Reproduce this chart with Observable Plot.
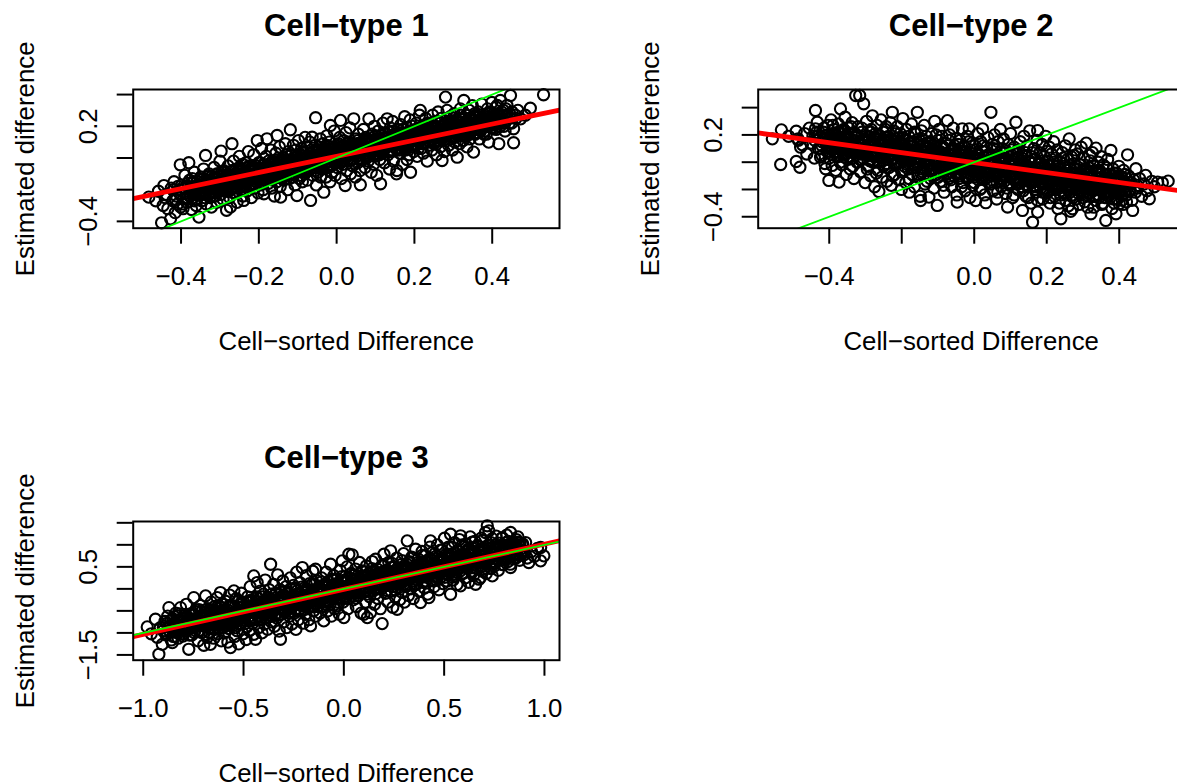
<!DOCTYPE html>
<html><head><meta charset="utf-8">
<script src="https://cdn.jsdelivr.net/npm/d3@7"></script>
<script src="https://cdn.jsdelivr.net/npm/@observablehq/plot@0.6"></script>
<style>
html,body{margin:0;padding:0;background:#fff;overflow:hidden;}
#wrap{position:relative;width:1177px;height:784px;overflow:hidden;background:#fff;}
.panel{position:absolute;}
</style></head><body><div id="wrap"></div>
<script>
// ---- data: [cell-sorted difference, estimated difference] ----
const ct1 = [
[-.483,-.247],[-.465,-.27],[-.458,-.21],[-.450,-.409],[-.446,-.30],[-.444,-.174],[-.441,-.25],
[-.437,-.23],[-.434,-.32],[-.427,-.384],[-.425,-.19],[-.421,-.27],[-.418,-.15],[-.415,-.345],[-.412,-.24],[-.409,-.29],[-.405,-.20],[-.402,-.043],[-.401,-.31],
[-.398,-.17],[-.395,-.32],[-.393,-.26],[-.390,-.11],[-.388,-.22],[-.385,-.28],[-.382,-.16],[-.380,-.03],[-.378,-.24],[-.375,-.19],[-.373,-.325],[-.371,-.13],[-.368,-.25],[-.366,-.09],[-.363,-.21],[-.361,-.30],
[-.358,-.15],[-.354,-.373],[-.352,-.23],[-.349,-.12],[-.347,-.27],[-.344,-.18],[-.342,-.07],[-.339,-.22],[-.337,.016],[-.335,-.29],[-.333,-.14],[-.331,-.20],[-.328,-.10],[-.326,-.25],[-.324,-.17],[-.322,-.31],
[-.319,-.13],[-.317,-.21],[-.315,-.06],[-.312,-.24],[-.310,-.16],[-.308,-.28],[-.305,-.10],[-.303,-.19],[-.300,-.02],[-.298,-.23],[-.297,.043],[-.295,-.14],[-.292,-.26],[-.290,-.08],[-.288,-.18],[-.285,-.12],[-.283,-.33],[-.281,-.21],
[-.279,-.05],[-.277,-.16],[-.275,-.25],[-.273,-.31],[-.271,-.11],[-.269,.09],[-.267,-.19],[-.265,-.02],[-.262,-.14],[-.260,-.22],[-.258,-.07],[-.256,-.28],[-.254,-.12],[-.252,-.17],[-.250,.01],[-.248,-.09],[-.246,-.20],[-.244,-.13],[-.242,-.04],[-.241,-.24],
[-.239,-.268],[-.237,-.10],[-.235,-.16],[-.233,-.03],[-.231,-.21],[-.229,-.12],[-.227,.04],[-.225,-.08],[-.223,-.18],[-.221,-.14],[-.219,-.25],[-.217,-.05],[-.215,-.11],[-.213,.02],[-.211,-.19],[-.209,-.07],[-.207,-.15],[-.205,-.09],[-.204,.11],[-.202,-.22],
[-.199,-.13],[-.197,-.03],[-.195,-.17],[-.193,.06],[-.191,-.10],[-.189,-.20],[-.187,-.226],[-.185,-.06],[-.183,-.14],[-.181,.01],[-.179,.121],[-.177,-.08],[-.175,-.16],[-.173,-.04],[-.171,-.11],[-.169,.05],[-.167,-.19],[-.165,-.02],[-.163,-.12],[-.161,-.07],[-.160,-.24],
[-.158,-.09],[-.156,.03],[-.154,-.15],[-.153,.142],[-.151,-.05],[-.149,-.12],[-.147,.07],[-.145,-.18],[-.144,-.247],[-.142,-.02],[-.140,-.10],[-.138,.00],[-.136,-.14],[-.134,-.06],[-.132,.09],[-.130,-.11],[-.128,-.03],[-.126,-.20],[-.124,.04],[-.122,-.08],[-.121,-.13],
[-.119,.178],[-.117,-.06],[-.115,.02],[-.113,-.12],[-.111,.08],[-.109,-.02],[-.107,-.17],[-.105,.05],[-.103,-.09],[-.102,-.237],[-.100,-.04],[-.098,.11],[-.096,-.13],[-.094,.00],[-.092,-.07],[-.090,.06],[-.088,-.15],[-.086,-.01],[-.084,.03],[-.082,-.10],[-.081,.13],
[-.079,-.05],[-.077,.07],[-.075,-.14],[-.073,.01],[-.071,-.08],[-.069,.10],[-.067,-.268],[-.065,-.03],[-.063,.131],[-.061,-.11],[-.059,.04],[-.057,-.06],[-.055,.08],[-.054,.254],[-.052,-.17],[-.050,.00],[-.048,-.09],[-.046,.05],[-.044,-.02],[-.042,.12],[-.041,-.12],
[-.039,.02],[-.037,-.07],[-.035,.09],[-.033,-.216],[-.031,-.03],[-.029,.06],[-.027,-.12],[-.025,.14],[-.023,.00],[-.021,-.05],[-.019,.10],[-.017,-.15],[-.016,.205],[-.014,.03],[-.012,-.09],[-.010,.07],[-.008,-.02],[-.006,.17],[-.004,-.11],[-.002,.04],
[.002,-.06],[.004,.08],[.006,-.01],[.008,.13],[.010,.237],[.012,-.13],[.014,.05],[.016,-.04],[.018,.11],[.020,.00],[.022,-.174],[.024,.16],[.026,-.08],[.028,.06],[.030,.02],[.032,-.02],[.034,.19],[.036,-.10],[.038,.09],[.039,.03],
[.041,-.05],[.044,.247],[.046,.07],[.048,-.12],[.050,.12],[.052,.01],[.054,-.03],[.056,.15],[.058,.05],[.060,-.08],[.061,-.169],[.063,.10],[.065,.03],[.067,-.01],[.069,.18],[.071,.08],[.073,-.06],[.075,.13],[.077,.00],[.079,.06],
[.081,-.02],[.083,.247],[.085,.10],[.087,.04],[.089,-.09],[.091,.15],[.093,.07],[.095,-.04],[.097,.20],[.099,.01],[.101,.12],[.103,-.11],[.105,.05],[.107,.17],[.109,.09],[.111,-.01],[.113,-.163],[.115,.14],[.117,.03],[.119,.22],
[.121,.06],[.123,-.03],[.125,.16],[.127,.10],[.130,.247],[.132,.02],[.134,.13],[.136,-.07],[.138,.19],[.140,.08],[.142,.04],[.144,.23],[.146,-.02],[.148,.11],[.150,.15],[.152,.06],[.154,-.10],[.155,-.079],[.157,.18],[.159,.09],
[.161,.13],[.163,.03],[.165,.21],[.167,.08],[.169,-.04],[.171,.16],[.173,.11],[.175,.26],[.177,.05],[.179,.14],[.181,-.01],[.183,.19],[.185,.09],[.187,.02],[.189,.24],[.190,-.09],[.192,.12],[.194,.07],[.196,.17],[.198,.04],
[.201,.15],[.203,.08],[.205,.22],[.207,.01],[.209,.18],[.211,.11],[.213,.27],[.215,.30],[.217,.06],[.219,.14],[.221,.20],[.223,.03],[.225,.17],[.227,.10],[.229,.25],[.231,.13],[.233,-.02],[.235,.19],[.237,.08],[.239,.16],
[.241,.21],[.243,.12],[.245,.05],[.247,.27],[.249,.17],[.251,.09],[.253,.23],[.255,.14],[.257,.02],[.259,.19],[.261,.29],[.263,.11],[.265,.16],[.267,.07],[.269,.25],[.271,-.016],[.273,.13],[.275,.20],[.277,.04],[.279,.18],
[.280,.384],[.282,.15],[.284,.30],[.286,.22],[.288,.08],[.290,.18],[.292,.26],[.294,.12],[.296,.21],[.298,.05],[.300,.16],[.302,.28],[.304,.10],[.306,.19],[.308,.24],[.310,.005],[.312,.14],[.314,.22],[.316,.09],[.318,.31],
[.321,.17],[.323,.25],[.325,.11],[.327,.363],[.329,.20],[.331,.14],[.333,.27],[.335,.07],[.337,.22],[.339,.16],[.341,.30],[.343,.12],[.345,.24],[.347,.19],[.349,.33],[.352,.037],[.354,.21],[.356,.15],[.358,.26],
[.361,.18],[.364,.29],[.367,.12],[.370,.24],[.373,.34],[.376,.20],[.379,.15],[.382,.27],[.385,.22],[.388,.31],[.391,.10],[.394,.25],[.397,.19],[.399,.35],
[.403,.28],[.407,.21],[.410,.32],[.413,.331],[.417,.09],[.421,.363],[.425,.24],[.429,.30],[.433,.17],[.437,.27],
[.438,.331],[.444,.22],[.447,.394],[.451,.29],[.455,.184],[.455,.096],[.461,.25],[.466,.30],[.473,.247],
[.485,.27],[.498,.314],[.532,.399],
[-.355,-.17],[-.348,-.21],[-.341,-.15],[-.334,-.19],[-.327,-.22],[-.320,-.16],[-.313,-.13],[-.306,-.20],[-.299,-.15],[-.292,-.11],[-.286,-.17],[-.279,-.14],[-.272,-.20],[-.266,-.08],[-.259,-.15],[-.253,-.11],[-.246,-.16],[-.240,-.07],[-.233,-.13],[-.227,-.10],
[-.220,-.17],[-.214,-.06],[-.208,-.12],[-.201,-.09],[-.195,-.14],[-.189,-.05],[-.183,-.11],[-.176,-.07],[-.170,-.13],[-.164,-.04],[-.158,-.09],[-.152,-.12],[-.146,-.05],[-.140,-.08],[-.134,-.02],[-.128,-.10],[-.122,-.05],[-.116,-.01],[-.110,-.08],[-.104,-.04],
[-.098,-.06],[-.092,.02],[-.086,-.05],[-.080,-.09],[-.074,-.02],[-.068,.03],[-.062,-.04],[-.056,-.01],[-.050,.04],[-.044,-.06],[-.038,.00],[-.032,.05],[-.026,-.03],[-.020,.02],[-.014,-.05],[-.008,.06],[-.002,.00],[.004,.03],[.010,-.03],[.016,.07],
[.022,.02],[.028,-.01],[.034,.05],[.040,.09],[.046,.02],[.052,.06],[.058,-.01],[.064,.04],[.070,.08],[.076,.03],[.082,.11],[.088,.06],[.094,.02],[.100,.08],[.106,.12],[.112,.05],[.118,.09],[.124,.13],[.130,.07],[.136,.10],
[.142,.05],[.148,.13],[.154,.09],[.160,.16],[.166,.11],[.172,.07],[.178,.13],[.184,.10],[.190,.17],[.196,.12],[.202,.09],[.208,.14],[.214,.19],[.220,.12],[.226,.15],[.232,.21],[.238,.11],[.244,.17],[.250,.14],[.256,.20],
[.262,.16],[.268,.12],[.274,.18],[.280,.22],[.286,.15],[.292,.19],[.298,.13],[.304,.21],[.310,.17],[.316,.25],[.322,.19],[.328,.15],[.334,.23],[.340,.18],[.346,.21],[.352,.26],[.358,.20],[.364,.23],[.370,.17],[.376,.25],
[.382,.21],[.388,.28],[.394,.22],[.400,.26],[.408,.19],[.416,.25],[.424,.29],[.432,.22],
[-.420,-.20],[-.414,-.26],[-.408,-.18],[-.402,-.23],[-.396,-.29],[-.390,-.19],[-.384,-.25],[-.378,-.14],[-.372,-.21],[-.366,-.27],[-.360,-.18],[-.355,-.23],[-.350,-.13],[-.345,-.20],[-.340,-.25],[-.335,-.17],[-.330,-.11],[-.325,-.21],[-.320,-.19],[-.315,-.24],
[-.310,-.12],[-.305,-.17],[-.300,-.21],[-.295,-.09],[-.290,-.15],[-.285,-.20],[-.280,-.11],[-.275,-.18],[-.270,-.14],[-.265,-.22],[-.260,-.10],[-.255,-.16],[-.250,-.06],[-.245,-.13],[-.240,-.18],[-.235,-.09],[-.230,-.15],[-.225,-.05],[-.220,-.11],[-.215,-.16],
[-.210,-.08],[-.205,-.13],[-.200,-.03],[-.195,-.10],[-.190,-.15],[-.185,-.07],[-.180,-.12],[-.175,-.02],[-.170,-.09],[-.165,-.14],[-.160,-.05],[-.155,-.10],[-.150,-.01],[-.145,-.07],[-.140,-.13],[-.135,-.04],[-.130,-.08],[-.125,.01],[-.120,-.05],[-.115,-.10],
[-.110,-.03],[-.105,.02],[-.100,-.07],[-.095,-.02],[-.090,-.11],[-.085,.04],[-.080,-.03],[-.075,.00],[-.070,-.07],[-.065,.05],[-.060,-.01],[-.055,-.08],[-.050,.02],[-.045,.07],[-.040,-.04],[-.035,.03],[-.030,-.01],[-.025,.08],[-.020,-.06],[-.015,.01],
[-.010,.05],[-.005,-.03],[.000,.02],[.005,.09],[.010,.04],[.015,-.02],[.020,.06],[.025,.01],[.030,.10],[.035,.03],[.040,-.01],[.045,.07],[.050,.04],[.055,.11],[.060,.02],[.065,.08],[.070,.05],[.075,.12],[.080,.01],[.085,.07],
[.090,.10],[.095,.04],[.100,.14],[.105,.08],[.110,.02],[.115,.11],[.120,.06],[.125,.15],[.130,.09],[.135,.04],[.140,.12],[.145,.17],[.150,.08],[.155,.13],[.160,.05],[.165,.10],[.170,.18],[.175,.12],[.180,.07],[.185,.15],
[.190,.10],[.195,.20],[.200,.12],[.205,.16],[.210,.06],[.215,.14],[.220,.18],[.225,.09],[.230,.16],[.235,.22],[.240,.13],[.245,.19],[.250,.10],[.255,.17],[.260,.23],[.265,.14],[.270,.20],[.275,.11],[.280,.17],[.285,.25],
[.290,.14],[.295,.19],[.300,.23],[.305,.13],[.310,.20],[.315,.16],[.320,.27],[.325,.18],[.330,.22],[.335,.14],[.340,.25],[.345,.17],[.350,.22],[.355,.28],[.360,.16],[.365,.21],[.370,.27],[.375,.19],[.380,.24],[.385,.15],
[.390,.23],[.395,.29],[.400,.21],[.405,.25],[.410,.18],[.415,.28],[.420,.22],[.425,.27],[.430,.20],[.435,.31],[.440,.25],[.445,.28],[.450,.22],[.460,.27],
[-.380,-.18],[-.376,-.24],[-.372,-.20],[-.368,-.15],[-.364,-.22],[-.360,-.26],[-.356,-.17],[-.352,-.21],[-.348,-.14],[-.344,-.19],[-.340,-.23],[-.336,-.16],[-.332,-.12],[-.328,-.20],[-.324,-.17],[-.320,-.22],[-.316,-.13],[-.312,-.18],[-.308,-.10],[-.304,-.15],
[-.300,-.20],[-.296,-.12],[-.292,-.17],[-.288,-.09],[-.284,-.14],[-.280,-.19],[-.276,-.11],[-.272,-.16],[-.268,-.08],[-.264,-.13],[-.260,-.18],[-.256,-.10],[-.252,-.15],[-.248,-.07],[-.244,-.12],[-.240,-.17],[-.236,-.09],[-.232,-.14],[-.228,-.06],[-.224,-.11],
[-.220,-.16],[-.216,-.08],[-.212,-.13],[-.208,-.05],[-.204,-.10],[-.200,-.14],[-.196,-.07],[-.192,-.12],[-.188,-.04],[-.184,-.09],[-.180,-.13],[-.176,-.06],[-.172,-.10],[-.168,-.03],[-.164,-.08],[-.160,-.12],[-.156,-.05],[-.152,-.09],[-.148,-.02],[-.144,-.07],
[-.140,-.11],[-.136,-.04],[-.132,-.08],[-.128,-.01],[-.124,-.06],[-.120,-.10],[-.116,-.03],[-.112,-.07],[-.108,.00],[-.104,-.05],[-.100,-.08],[-.096,-.02],[-.092,-.06],[-.088,.01],[-.084,-.04],[-.080,-.07],[-.076,.00],[-.072,-.04],[-.068,.03],[-.064,-.02],
[-.060,-.06],[-.056,.02],[-.052,-.03],[-.048,.04],[-.044,-.01],[-.040,-.05],[-.036,.03],[-.032,-.01],[-.028,.05],[-.024,.00],[-.020,-.04],[-.016,.04],[-.012,.01],[-.008,.06],[-.004,.01],[.000,-.03],[.004,.05],[.008,.02],[.012,.07],[.016,.02],
[.020,-.02],[.024,.06],[.028,.03],[.032,.08],[.036,.03],[.040,-.01],[.044,.07],[.048,.04],[.052,.09],[.056,.05],[.060,.00],[.064,.08],[.068,.05],[.072,.10],[.076,.06],[.080,.02],[.084,.09],[.088,.06],[.092,.11],[.096,.07],
[.100,.03],[.104,.10],[.108,.07],[.112,.12],[.116,.08],[.120,.04],[.124,.11],[.128,.08],[.132,.13],[.136,.09],[.140,.05],[.144,.12],[.148,.09],[.152,.14],[.156,.10],[.160,.06],[.164,.13],[.168,.10],[.172,.15],[.176,.11],
[.180,.07],[.184,.14],[.188,.11],[.192,.16],[.196,.12],[.200,.08],[.204,.15],[.208,.12],[.212,.17],[.216,.13],[.220,.09],[.224,.16],[.228,.13],[.232,.18],[.236,.14],[.240,.10],[.244,.17],[.248,.14],[.252,.19],[.256,.15],
[.260,.11],[.264,.18],[.268,.15],[.272,.20],[.276,.16],[.280,.12],[.284,.19],[.288,.16],[.292,.21],[.296,.17],[.300,.13],[.304,.20],[.308,.17],[.312,.22],[.316,.18],[.320,.14],[.324,.21],[.328,.18],[.332,.23],[.336,.19],
[.340,.15],[.344,.22],[.348,.19],[.352,.24],[.356,.20],[.360,.16],[.364,.23],[.368,.20],[.372,.25],[.376,.21],[.380,.17],[.384,.24],[.388,.21],[.392,.26],[.396,.22],[.400,.19],[.404,.25],[.408,.22],[.412,.27],[.416,.23],[.420,.20]
];
const ct2 = [
[-.557,.171],[-.532,.237],[-.534,-.017],[-.512,.19],[-.491,.227],[-.491,.005],[-.481,-.037],[-.485,.16],[-.486,.171],[-.479,.11],
[-.474,.127],[-.468,.21],[-.462,.06],[-.455,.25],[-.450,.14],[-.445,.19],[-.441,.03],
[-.438,.379],[-.438,.245],[-.433,.293],[-.429,.196],[-.424,.098],[-.424,.037],[-.420,.15],[-.416,.22],[-.412,-.01],[-.410,-.048],[-.407,.12],[-.404,.27],[-.401,-.134],[-.402,.07],
[-.398,.18],[-.395,.31],[-.392,-.024],[-.390,.09],[-.387,.24],[-.385,.14],[-.382,-.06],[-.380,.20],[-.377,.04],[-.375,.28],[-.373,-.146],[-.371,.11],[-.369,.391],[-.367,.17],[-.365,-.02],[-.363,.23],[-.361,.06],
[-.358,.13],[-.356,.33],[-.353,-.09],[-.351,.19],[-.349,.02],[-.346,.25],[-.344,.10],[-.342,-.05],[-.339,.16],[-.337,.29],[-.335,.07],[-.332,-.12],[-.330,.21],[-.327,.489],[-.325,.12],[-.323,.00],[-.321,.26],
[-.318,.15],[-.316,.489],[-.314,-.07],[-.312,.08],[-.310,.22],[-.307,.03],[-.305,.428],[-.303,.17],[-.301,-.15],[-.299,.11],[-.297,.30],[-.295,.05],[-.292,-.03],[-.290,.19],[-.288,.13],[-.286,-.10],[-.284,.24],[-.282,.07],[-.281,.34],
[-.279,.00],[-.277,.14],[-.275,-.18],[-.272,.21],[-.270,.06],[-.268,.27],[-.266,-.06],[-.264,.10],[-.263,-.215],[-.261,.17],[-.259,.03],[-.257,.31],[-.255,-.11],[-.253,.12],[-.251,.22],[-.249,.04],[-.247,-.02],[-.245,.16],[-.243,.26],[-.241,-.14],
[-.239,.09],[-.237,.19],[-.235,-.04],[-.233,.13],[-.231,.29],[-.229,-.17],[-.226,.366],[-.224,.02],[-.222,.23],[-.220,-.09],[-.218,.11],[-.216,.17],[-.214,-.01],[-.212,.26],[-.210,.06],[-.208,-.13],[-.206,.14],[-.204,.21],[-.202,.00],[-.201,-.20],
[-.199,.10],[-.197,.32],[-.195,-.06],[-.193,.16],[-.191,.04],[-.189,-.15],[-.187,.24],[-.185,.08],[-.183,-.02],[-.181,.19],[-.179,-.22],[-.177,.12],[-.175,.01],[-.173,.28],[-.171,-.09],[-.169,.15],[-.167,.06],[-.165,-.18],[-.163,.21],[-.161,-.04],
[-.159,.09],[-.157,.366],[-.155,-.11],[-.153,.17],[-.151,.02],[-.149,-.25],[-.148,-.281],[-.146,.23],[-.144,.05],[-.142,-.07],[-.140,.13],[-.138,.27],[-.136,-.16],[-.134,.00],[-.132,.19],[-.130,-.03],[-.128,.10],[-.125,-.256],[-.123,.15],[-.121,-.12],
[-.119,.07],[-.117,.21],[-.115,-.05],[-.113,.12],[-.111,-.19],[-.109,.30],[-.107,.03],[-.105,-.09],[-.102,-.317],[-.101,.16],[-.099,-.01],[-.097,.24],[-.095,.08],[-.093,-.14],[-.091,.05],[-.089,.19],[-.087,-.06],[-.085,.11],[-.083,-.22],[-.081,.01],
[-.079,.14],[-.077,-.03],[-.074,.305],[-.072,.06],[-.070,-.12],[-.068,.20],[-.066,-.07],[-.064,.09],[-.062,-.18],[-.060,.02],[-.058,.25],[-.056,-.10],[-.054,.12],[-.052,-.02],[-.050,.17],[-.048,-.24],[-.047,-.293],[-.045,.04],[-.043,-.05],[-.041,.10],
[-.039,.16],[-.037,-.08],[-.035,.05],[-.033,.245],[-.031,-.15],[-.029,.01],[-.027,.11],[-.025,-.21],[-.023,.07],[-.021,-.04],[-.019,.19],[-.017,-.11],[-.015,.03],[-.014,.245],[-.012,-.26],[-.010,.09],[-.008,-.02],[-.006,.14],[-.004,-.17],[-.002,.00],
[.002,.12],[.004,-.281],[.006,-.06],[.008,.05],[.010,.21],[.012,-.13],[.014,.02],[.016,-.20],[.018,.15],[.020,-.03],[.022,.08],[.023,.245],[.025,-.10],[.027,.04],[.029,-.24],[.032,-.297],[.034,.11],[.036,-.07],[.038,.18],[.039,-.01],
[.041,-.15],[.043,.06],[.046,.366],[.048,-.05],[.050,.13],[.052,-.21],[.054,.01],[.056,.20],[.058,-.09],[.060,.09],[.062,-.27],[.064,-.02],[.066,.15],[.068,-.12],[.070,.04],[.072,.24],[.074,-.18],[.076,-.04],[.078,.10],[.079,-.07],
[.081,.17],[.083,-.14],[.085,.02],[.087,-.23],[.089,.08],[.091,-.06],[.092,-.329],[.094,.13],[.096,-.01],[.098,-.17],[.100,.21],[.102,-.09],[.104,.05],[.106,-.26],[.108,.00],[.110,.11],[.112,-.12],[.115,.293],[.117,-.04],[.119,.06],
[.121,-.20],[.123,.09],[.125,-.08],[.127,.15],[.129,-.15],[.131,.03],[.133,-.354],[.135,-.02],[.137,.19],[.139,-.11],[.141,.07],[.143,-.25],[.145,-.05],[.147,.12],[.149,-.17],[.151,.01],[.153,.23],[.155,-.09],[.157,-.30],[.159,.04],
[.161,-.44],[.163,-.06],[.165,.10],[.167,-.14],[.169,.02],[.171,-.22],[.173,.16],[.175,.232],[.175,-.366],[.177,-.04],[.179,-.11],[.181,.07],[.183,-.19],[.185,-.01],[.187,.13],[.189,-.27],[.191,-.08],[.193,.04],[.195,-.15],[.197,.19],[.199,-.05],
[.201,-.21],[.203,.01],[.205,-.12],[.207,.11],[.209,-.30],[.211,-.07],[.213,.06],[.215,-.17],[.217,-.02],[.219,.15],[.221,-.25],[.223,-.10],[.225,.03],[.227,-.14],[.229,.09],[.231,-.34],[.233,-.05],[.235,-.19],[.237,.00],[.239,-.415],
[.241,-.09],[.243,.07],[.245,-.22],[.247,-.03],[.249,-.15],[.251,.12],[.253,-.28],[.255,-.06],[.257,.02],[.259,-.18],[.262,.171],[.264,-.11],[.266,-.36],[.268,.04],[.270,-.24],[.271,-.341],[.273,-.08],[.275,-.01],[.277,-.16],[.279,.09],
[.281,-.20],[.283,-.05],[.285,.06],[.287,-.13],[.289,-.31],[.291,-.02],[.293,-.17],[.295,.11],[.297,-.09],[.299,-.26],[.301,-.11],[.303,.03],[.305,-.22],[.307,-.06],[.309,.14],[.311,-.15],[.313,-.33],[.315,-.04],[.317,-.19],[.319,.05],
[.322,-.378],[.324,-.10],[.326,.07],[.328,-.21],[.330,-.03],[.332,-.16],[.334,-.28],[.336,.103],[.338,-.08],[.340,-.12],[.342,.00],[.344,-.24],[.346,-.06],[.348,-.18],[.350,.04],[.352,-.31],[.354,-.14],[.356,-.02],[.358,-.22],
[.361,-.09],[.363,-.427],[.365,-.17],[.368,.02],[.371,-.25],[.374,-.12],[.377,.086],[.380,-.20],[.383,-.05],[.386,-.30],[.389,-.15],[.391,-.378],[.393,-.08],[.396,-.22],[.399,-.03],[.400,-.305],
[.404,-.13],[.408,-.24],[.412,-.06],[.416,-.18],[.420,-.29],[.423,.054],[.426,-.10],[.430,-.21],[.434,-.15],[.437,-.354],
[.446,-.048],[.450,-.19],[.456,-.12],[.462,-.25],[.468,-.16],[.473,-.097],[.477,-.21],
[.483,-.268],[.490,-.14],[.497,-.18],[.506,-.146],[.519,-.151],[.535,-.139],
[-.420,.12],[-.413,.18],[-.406,.08],[-.399,.15],[-.392,.21],[-.385,.10],[-.378,.16],[-.371,.05],[-.364,.13],[-.357,.19],[-.350,.09],[-.343,.14],[-.336,.03],[-.329,.18],[-.322,.11],[-.315,.06],[-.308,.15],[-.301,.20],[-.294,.09],[-.287,.02],
[-.280,.13],[-.273,.18],[-.266,.07],[-.259,.12],[-.252,.01],[-.245,.09],[-.238,.15],[-.231,.05],[-.224,.11],[-.217,-.02],[-.210,.08],[-.203,.14],[-.196,.03],[-.189,.09],[-.182,-.05],[-.175,.06],[-.168,.12],[-.161,.00],[-.154,.07],[-.147,-.08],
[-.140,.04],[-.133,.10],[-.126,-.02],[-.119,.05],[-.112,-.10],[-.105,.02],[-.098,.08],[-.091,-.04],[-.084,.04],[-.077,-.09],[-.070,.01],[-.063,.06],[-.056,-.05],[-.049,.02],[-.042,-.12],[-.035,-.01],[-.028,.05],[-.021,-.07],[-.014,.00],[-.007,-.10],
[.000,-.03],[.007,.03],[.014,-.08],[.021,-.02],[.028,-.13],[.035,-.05],[.042,.01],[.049,-.10],[.056,-.04],[.063,-.15],[.070,-.07],[.077,.00],[.084,-.11],[.091,-.05],[.098,-.16],[.105,-.08],[.112,-.02],[.119,-.13],[.126,-.06],[.133,-.18],
[.140,-.10],[.147,-.03],[.154,-.14],[.161,-.08],[.168,-.20],[.175,-.12],[.182,-.05],[.189,-.16],[.196,-.09],[.203,-.22],[.210,-.13],[.217,-.06],[.224,-.18],[.231,-.11],[.238,-.24],[.245,-.14],[.252,-.08],[.259,-.20],[.266,-.12],[.273,-.26],
[.280,-.16],[.287,-.09],[.294,-.22],[.301,-.14],[.308,-.05],[.315,-.18],[.322,-.12],[.329,-.25],[.336,-.15],[.343,-.07],[.350,-.20],[.357,-.13],[.364,-.26],[.371,-.16],[.378,-.10],[.385,-.22],[.392,-.14],[.399,-.19],[.406,-.11],[.413,-.23],[.420,-.16],
[-.440,.16],[-.435,.22],[-.430,.10],[-.425,.18],[-.420,.05],[-.415,.25],[-.410,.14],[-.405,.20],[-.400,.03],[-.395,.12],[-.390,.27],[-.385,.17],[-.380,.08],[-.375,.22],[-.370,.00],[-.365,.15],[-.360,.24],[-.355,.06],[-.350,.18],[-.345,.12],
[-.340,.26],[-.335,-.03],[-.330,.09],[-.325,.20],[-.320,.14],[-.315,.02],[-.310,.25],[-.305,.08],[-.300,.16],[-.295,-.05],[-.290,.11],[-.285,.22],[-.280,.05],[-.275,.15],[-.270,-.08],[-.265,.20],[-.260,.08],[-.255,.13],[-.250,-.03],[-.245,.24],
[-.240,.02],[-.235,.10],[-.230,.17],[-.225,-.10],[-.220,.06],[-.215,.21],[-.210,.00],[-.205,.12],[-.200,-.07],[-.195,.18],[-.190,.05],[-.185,.10],[-.180,-.12],[-.175,.14],[-.170,-.02],[-.165,.22],[-.160,.04],[-.155,-.09],[-.150,.11],[-.145,.17],
[-.140,-.04],[-.135,.07],[-.130,-.14],[-.125,.02],[-.120,.14],[-.115,-.06],[-.110,.09],[-.105,.20],[-.100,-.11],[-.095,.01],[-.090,.12],[-.085,-.17],[-.080,.06],[-.075,-.05],[-.070,.16],[-.065,-.13],[-.060,.03],[-.055,.09],[-.050,-.08],[-.045,.13],
[-.040,-.02],[-.035,-.18],[-.030,.07],[-.025,.02],[-.020,-.12],[-.015,.15],[-.010,-.06],[-.005,.04],[.000,-.15],[.005,.09],[.010,-.09],[.015,.00],[.020,-.19],[.025,.12],[.030,-.04],[.035,-.11],[.040,.05],[.045,-.16],[.050,-.01],[.055,.10],
[.060,-.08],[.065,-.22],[.070,.02],[.075,-.13],[.080,.07],[.085,-.04],[.090,-.19],[.095,.00],[.100,-.10],[.105,.09],[.110,-.24],[.115,-.06],[.120,.03],[.125,-.15],[.130,-.02],[.135,-.21],[.140,.05],[.145,-.09],[.150,-.26],[.155,-.04],
[.160,.07],[.165,-.17],[.170,-.08],[.175,-.28],[.180,.01],[.185,-.12],[.190,-.22],[.195,-.03],[.200,.08],[.205,-.16],[.210,-.26],[.215,-.10],[.220,.00],[.225,-.20],[.230,-.07],[.235,-.30],[.240,-.13],[.245,.03],[.250,-.23],[.255,-.11],
[.260,-.32],[.265,-.05],[.270,-.18],[.275,.05],[.280,-.27],[.285,-.12],[.290,-.21],[.295,-.02],[.300,-.16],[.305,-.29],[.310,-.09],[.315,-.23],[.320,.01],[.325,-.14],[.330,-.33],[.335,-.19],[.340,-.06],[.345,-.26],[.350,-.11],[.355,-.30],
[.360,-.17],[.365,-.04],[.370,-.22],[.375,-.13],[.380,-.34],[.385,-.08],[.390,-.20],[.395,-.27],[.400,-.12],[.405,-.18],[.410,-.31],[.415,-.09],[.420,-.24],[.425,-.15],[.430,-.20],[.435,-.28],[.440,-.13],[.445,-.22],[.450,-.17],
[-.400,.16],[-.396,.10],[-.392,.20],[-.388,.13],[-.384,.07],[-.380,.18],[-.376,.12],[-.372,.22],[-.368,.09],[-.364,.15],[-.360,.04],[-.356,.17],[-.352,.11],[-.348,.21],[-.344,.08],[-.340,.14],[-.336,.03],[-.332,.16],[-.328,.10],[-.324,.20],
[-.320,.07],[-.316,.13],[-.312,.02],[-.308,.15],[-.304,.09],[-.300,.19],[-.296,.06],[-.292,.12],[-.288,.01],[-.284,.14],[-.280,.08],[-.276,.18],[-.272,.05],[-.268,.11],[-.264,.00],[-.260,.13],[-.256,.07],[-.252,.17],[-.248,.04],[-.244,.10],
[-.240,-.01],[-.236,.12],[-.232,.06],[-.228,.16],[-.224,.03],[-.220,.09],[-.216,-.02],[-.212,.11],[-.208,.05],[-.204,.15],[-.200,.02],[-.196,.08],[-.192,-.03],[-.188,.10],[-.184,.04],[-.180,.14],[-.176,.01],[-.172,.07],[-.168,-.04],[-.164,.09],
[-.160,.03],[-.156,.13],[-.152,.00],[-.148,.06],[-.144,-.05],[-.140,.08],[-.136,.02],[-.132,.12],[-.128,-.01],[-.124,.05],[-.120,-.06],[-.116,.07],[-.112,.01],[-.108,.11],[-.104,-.02],[-.100,.04],[-.096,-.07],[-.092,.06],[-.088,.00],[-.084,.10],
[-.080,-.03],[-.076,.03],[-.072,-.08],[-.068,.05],[-.064,-.01],[-.060,.09],[-.056,-.04],[-.052,.02],[-.048,-.09],[-.044,.04],[-.040,-.02],[-.036,.08],[-.032,-.05],[-.028,.01],[-.024,-.10],[-.020,.03],[-.016,-.03],[-.012,.07],[-.008,-.06],[-.004,.00],
[.000,-.11],[.004,.02],[.008,-.04],[.012,.06],[.016,-.07],[.020,-.01],[.024,-.12],[.028,.01],[.032,-.05],[.036,.05],[.040,-.08],[.044,-.02],[.048,-.13],[.052,.00],[.056,-.06],[.060,.04],[.064,-.09],[.068,-.03],[.072,-.14],[.076,-.01],
[.080,-.07],[.084,.03],[.088,-.10],[.092,-.04],[.096,-.15],[.100,-.02],[.104,-.08],[.108,.02],[.112,-.11],[.116,-.05],[.120,-.16],[.124,-.03],[.128,-.09],[.132,.01],[.136,-.12],[.140,-.06],[.144,-.17],[.148,-.04],[.152,-.10],[.156,.00],
[.160,-.13],[.164,-.07],[.168,-.18],[.172,-.05],[.176,-.11],[.180,-.01],[.184,-.14],[.188,-.08],[.192,-.19],[.196,-.06],[.200,-.12],[.204,-.02],[.208,-.15],[.212,-.09],[.216,-.20],[.220,-.07],[.224,-.13],[.228,-.03],[.232,-.16],[.236,-.10],
[.240,-.21],[.244,-.08],[.248,-.14],[.252,-.04],[.256,-.17],[.260,-.11],[.264,-.22],[.268,-.09],[.272,-.15],[.276,-.05],[.280,-.18],[.284,-.12],[.288,-.23],[.292,-.10],[.296,-.16],[.300,-.06],[.304,-.19],[.308,-.13],[.312,-.24],[.316,-.11],
[.320,-.17],[.324,-.07],[.328,-.20],[.332,-.14],[.336,-.25],[.340,-.12],[.344,-.18],[.348,-.08],[.352,-.21],[.356,-.15],[.360,-.26],[.364,-.13],[.368,-.19],[.372,-.09],[.376,-.22],[.380,-.16],[.384,-.27],[.388,-.14],[.392,-.20],[.396,-.10],
[.400,-.23],[.404,-.17],[.408,-.28],[.412,-.15],[.416,-.21],[.420,-.12]
];
const ct3 = [
[-.980,-.864],[-.960,-1.02],[-.939,-.69],[-.930,-1.10],[-.922,-1.486],[-.915,-.88],[-.905,-1.26],
[-.900,-.95],[-.892,-.74],[-.885,-1.05],[-.878,-.62],[-.872,-.425],[-.866,-.86],[-.860,-1.16],[-.855,-1.22],[-.850,-.79],[-.845,-.98],
[-.838,-.55],[-.832,-.90],[-.826,-1.12],[-.820,-.70],[-.814,-.425],[-.808,-.84],[-.802,-1.02],[-.796,-.62],[-.790,-.95],[-.785,-.35],[-.779,-.78],[-.773,-1.373],[-.767,-.88],[-.762,-.57],
[-.758,-1.05],[-.753,-.72],[-.748,-.198],[-.742,-.94],[-.737,-.48],[-.731,-.83],[-.726,-1.18],[-.720,-.62],[-.715,-.38],[-.709,-.99],[-.704,-.74],[-.698,-1.28],[-.693,-.55],[-.689,-.159],[-.685,-.86],[-.681,-1.10],
[-.678,-.45],[-.674,-.70],[-.670,-.98],[-.665,-1.26],[-.661,-.30],[-.657,-.82],[-.652,-.58],[-.648,-1.12],[-.644,-.40],[-.640,-.92],[-.635,-.66],[-.631,-.20],[-.627,-1.02],[-.622,-.52],[-.618,-.78],[-.615,-.084],[-.611,-1.18],[-.606,-.35],[-.602,-.87],
[-.598,-.60],[-.594,-1.00],[-.590,-.28],[-.586,-.75],[-.582,-.47],[-.578,-1.21],[-.574,-.90],[-.570,-.14],[-.565,-1.334],[-.561,-.66],[-.557,-.38],[-.553,-.83],[-.548,-.045],[-.544,-1.08],[-.540,-.55],[-.536,-.22],[-.532,-.95],[-.528,-.70],[-.524,-1.25],
[-.519,-.42],[-.515,-.80],[-.511,-.10],[-.507,-.60],[-.503,-1.02],[-.499,-.30],[-.495,-.72],[-.491,-.50],[-.487,-1.15],[-.483,-.86],[-.479,-.18],[-.475,-.40],[-.471,-.95],[-.467,.05],[-.463,-.65],[-.459,-.28],[-.455,-.78],[-.449,.295],[-.449,-1.032],[-.446,-.52],[-.440,-1.145],
[-.436,-.20],[-.432,.143],[-.428,-.62],[-.424,-.88],[-.420,-.38],[-.416,-.05],[-.412,-.70],[-.408,-1.00],[-.404,-.46],[-.400,-.12],[-.396,-.80],[-.392,.20],[-.388,-.55],[-.384,-.30],[-.380,-.92],[-.376,-.64],[-.372,-.02],[-.368,-.42],[-.365,.559],[-.362,-.75],
[-.358,-.25],[-.354,-.52],[-.350,.10],[-.346,-.85],[-.342,-.38],[-.338,-.12],[-.334,-.66],[-.330,.32],[-.326,-.45],[-.322,-.96],[-.318,-.02],[-.316,-1.145],[-.312,-.58],[-.308,-.30],[-.304,.18],[-.300,-.75],[-.296,-.20],[-.292,-.48],[-.288,.05],[-.284,-.88],
[-.279,-.35],[-.275,-.10],[-.271,-.62],[-.267,.25],[-.263,-.44],[-.259,-.80],[-.255,-.18],[-.251,.08],[-.247,-.55],[-.243,-.28],[-.239,-.92],[-.235,.38],[-.231,-.04],[-.227,-.70],[-.223,-.36],[-.219,.14],[-.215,-.50],[-.211,-.22],[-.207,.484],[-.203,-.78],
[-.199,-.30],[-.195,.02],[-.191,-.58],[-.187,.30],[-.183,-.15],[-.179,-.42],[-.175,-.70],[-.171,.12],[-.166,-.841],[-.163,-.25],[-.159,-.05],[-.155,.40],[-.151,-.50],[-.147,-.32],[-.141,.445],[-.139,-.62],[-.135,.18],[-.131,-.10],[-.127,-.38],[-.123,.06],
[-.119,-.55],[-.115,-.20],[-.111,.25],[-.107,-.02],[-.103,-.40],[-.100,-.727],[-.096,.10],[-.092,-.28],[-.088,.38],[-.084,-.12],[-.080,-.50],[-.076,.16],[-.072,-.06],[-.068,-.35],[-.066,.559],[-.062,-.62],[-.058,.02],[-.054,-.22],[-.050,.30],[-.046,-.45],[-.042,.08],
[-.038,-.15],[-.034,.22],[-.030,-.38],[-.026,.05],[-.022,-.58],[-.018,.42],[-.014,-.08],[-.010,.15],[-.008,.636],[-.004,-.30],[.000,-.652],[.004,.00],[.008,.28],[.012,-.20],[.016,.50],[.020,-.45],[.025,.786],[.028,.10],[.032,-.10],[.036,.35],
[.042,.773],[.046,-.25],[.050,.18],[.054,-.02],[.058,.45],[.062,-.40],[.066,.08],[.070,.30],[.074,-.15],[.078,.60],[.082,.00],[.086,-.55],[.090,.22],[.094,.40],[.098,-.08],[.100,-.577],[.104,.14],[.108,-.30],[.112,.52],[.117,-.652],
[.121,.05],[.125,.35],[.129,-.18],[.133,-.539],[.137,.20],[.141,.62],[.145,-.05],[.149,.28],[.153,-.35],[.158,.673],[.162,.10],[.166,.45],[.170,-.22],[.174,.02],[.178,.36],[.182,-.45],[.186,.15],[.191,-.789],[.195,.55],[.200,.786],
[.204,.25],[.208,-.10],[.212,.42],[.216,.08],[.220,-.30],[.224,.60],[.228,.18],[.233,.864],[.236,-.05],[.240,.35],[.244,-.42],[.248,.12],[.252,.50],[.256,-.18],[.260,.28],[.264,.70],[.266,-.464],[.270,.02],[.274,.40],[.278,-.25],
[.282,.15],[.286,.55],[.290,-.08],[.294,.32],[.298,.80],[.302,-.30],[.306,.45],[.310,.05],[.316,1.09],[.318,.22],[.322,-.15],[.326,.62],[.330,.38],[.334,.00],[.338,.72],[.342,.18],[.346,-.22],[.350,.50],[.354,.28],[.358,.90],
[.362,.10],[.366,.40],[.370,.68],[.374,-.05],[.378,.25],[.382,-.311],[.386,.55],[.390,.85],[.394,.15],[.398,.42],[.402,.02],[.406,.75],[.410,.30],[.414,.60],[.418,-.12],[.424,-.198],[.426,.48],[.430,.95],[.432,1.09],[.436,.20],
[.442,.65],[.446,.35],[.450,.05],[.454,.80],[.458,.50],[.462,.20],[.466,1.00],[.470,.62],[.474,-.02],[.478,.40],[.482,.88],[.486,.28],[.490,.70],[.494,.12],[.498,.55],[.502,1.15],[.506,.35],[.510,.78],[.514,.18],[.518,.48],
[.522,.95],[.526,.62],[.532,-.122],[.532,1.241],[.536,.40],[.540,.78],[.544,.20],[.548,.55],[.552,1.05],[.556,.30],[.560,.70],[.564,.10],[.568,.88],[.572,.45],[.576,1.12],[.582,.068],[.582,1.205],[.586,.60],[.590,.35],[.594,.95],
[.602,.72],[.606,.25],[.610,1.02],[.614,.50],[.618,.85],[.622,.15],[.626,.62],[.630,1.18],[.634,.40],[.638,.78],[.642,.92],[.646,.30],[.650,.55],[.654,1.08],[.657,.105],[.662,.70],[.666,.45],[.670,.98],[.674,.22],[.678,.82],
[.681,.257],[.685,1.15],[.689,.60],[.693,.40],[.697,.92],[.702,.75],[.706,1.28],[.710,.35],[.715,1.432],[.718,.65],[.723,1.318],[.726,.85],[.730,.48],[.734,1.05],[.738,.62],[.740,.295],[.745,.95],[.750,.52],[.755,.78],[.759,1.20],
[.764,.68],[.770,.42],[.776,.98],[.782,.80],[.788,1.15],[.794,.55],[.800,.90],[.806,.70],[.812,1.22],[.818,.62],[.824,.95],[.831,1.28],[.831,.484],[.836,.80],
[.846,1.05],[.852,.72],[.860,.90],[.868,1.18],[.876,.65],[.884,.85],[.892,1.02],[.900,.78],[.906,1.052],[.914,.70],[.922,.598],
[.935,.85],[.950,.74],[.965,.92],[.981,.939],[.981,.636],[.997,.75],
[-.850,-.80],[-.836,-.95],[-.822,-.72],[-.808,-.88],[-.794,-.66],[-.780,-.92],[-.766,-.75],[-.752,-.60],[-.738,-.85],[-.724,-.70],[-.710,-.52],[-.696,-.80],[-.682,-.64],[-.668,-.90],[-.654,-.55],[-.640,-.72],[-.626,-.45],[-.612,-.68],[-.598,-.82],[-.584,-.52],
[-.570,-.66],[-.556,-.40],[-.542,-.75],[-.528,-.58],[-.514,-.35],[-.500,-.62],[-.486,-.48],[-.472,-.72],[-.458,-.40],[-.444,-.55],[-.430,-.30],[-.416,-.62],[-.402,-.45],[-.388,-.25],[-.374,-.52],[-.360,-.38],[-.346,-.60],[-.332,-.28],[-.318,-.44],[-.304,-.15],
[-.290,-.40],[-.276,-.55],[-.262,-.22],[-.248,-.36],[-.234,-.12],[-.220,-.45],[-.206,-.28],[-.192,-.08],[-.178,-.34],[-.164,-.18],[-.150,-.40],[-.136,-.05],[-.122,-.25],[-.108,-.12],[-.094,-.35],[-.080,.05],[-.066,-.18],[-.052,-.08],[-.038,.12],[-.024,-.22],
[-.010,-.05],[.004,.15],[.018,-.12],[.032,.05],[.046,.22],[.060,-.06],[.074,.12],[.088,.28],[.102,.02],[.116,.18],[.130,-.05],[.144,.30],[.158,.10],[.172,.22],[.186,.00],[.200,.35],[.214,.15],[.228,.28],[.242,.05],[.256,.40],
[.270,.20],[.284,.32],[.298,.10],[.312,.45],[.326,.25],[.340,.38],[.354,.12],[.368,.52],[.382,.30],[.396,.45],[.410,.18],[.424,.58],[.438,.36],[.452,.48],[.466,.25],[.480,.65],[.494,.42],[.508,.58],[.522,.32],[.536,.70],
[.550,.48],[.564,.62],[.578,.40],[.592,.78],[.606,.55],[.620,.68],[.634,.48],[.648,.85],[.662,.60],[.676,.75],[.690,.52],[.704,.90],[.718,.68],[.732,.80],[.746,.58],[.760,.95],[.774,.72],[.788,.88],[.802,.65],[.816,1.00],
[.830,.78],[.844,.92],[.858,.70],[.872,.98],[.886,.82],
[-.900,-.88],[-.890,-1.00],[-.880,-.78],[-.870,-.95],[-.860,-.70],[-.850,-1.08],[-.840,-.86],[-.830,-.62],[-.820,-.98],[-.810,-.75],[-.800,-.90],[-.790,-.58],[-.780,-.82],[-.770,-1.05],[-.760,-.68],[-.750,-.88],[-.740,-.52],[-.730,-.76],[-.720,-.95],[-.710,-.64],
[-.700,-.84],[-.690,-.48],[-.680,-.72],[-.670,-1.00],[-.660,-.60],[-.650,-.80],[-.640,-.50],[-.630,-.70],[-.620,-.90],[-.610,-.42],[-.600,-.65],[-.590,-.85],[-.580,-.55],[-.570,-.74],[-.560,-.38],[-.550,-.60],[-.540,-.88],[-.530,-.48],[-.520,-.68],[-.510,-.30],
[-.500,-.55],[-.490,-.78],[-.480,-.42],[-.470,-.62],[-.460,-.25],[-.450,-.48],[-.440,-.70],[-.430,-.36],[-.420,-.55],[-.410,-.18],[-.400,-.42],[-.390,-.65],[-.380,-.30],[-.370,-.50],[-.360,-.12],[-.350,-.36],[-.340,-.58],[-.330,-.24],[-.320,-.45],[-.310,-.08],
[-.300,-.30],[-.290,-.52],[-.280,-.18],[-.270,-.38],[-.260,-.02],[-.250,-.25],[-.240,-.46],[-.230,-.12],[-.220,-.32],[-.210,.04],[-.200,-.20],[-.190,-.40],[-.180,-.06],[-.170,-.26],[-.160,.10],[-.150,-.14],[-.140,-.34],[-.130,.00],[-.120,-.20],[-.110,.16],
[-.100,-.08],[-.090,-.28],[-.080,.06],[-.070,-.14],[-.060,.22],[-.050,-.02],[-.040,-.22],[-.030,.12],[-.020,-.08],[-.010,.28],[.000,.04],[.010,-.16],[.020,.18],[.030,-.02],[.040,.34],[.050,.10],[.060,-.10],[.070,.24],[.080,.04],[.090,.40],
[.100,.16],[.110,-.04],[.120,.30],[.130,.10],[.140,.46],[.150,.22],[.160,.02],[.170,.36],[.180,.16],[.190,.52],[.200,.28],[.210,.08],[.220,.42],[.230,.22],[.240,.58],[.250,.34],[.260,.14],[.270,.48],[.280,.28],[.290,.64],
[.300,.40],[.310,.20],[.320,.54],[.330,.34],[.340,.70],[.350,.46],[.360,.26],[.370,.60],[.380,.40],[.390,.76],[.400,.52],[.410,.32],[.420,.66],[.430,.46],[.440,.82],[.450,.58],[.460,.38],[.470,.72],[.480,.52],[.490,.88],
[.500,.64],[.510,.44],[.520,.78],[.530,.58],[.540,.94],[.550,.70],[.560,.50],[.570,.84],[.580,.64],[.590,1.00],[.600,.76],[.610,.56],[.620,.90],[.630,.70],[.640,1.06],[.650,.82],[.660,.62],[.670,.96],[.680,.76],[.690,1.10],
[.700,.86],[.710,.66],[.720,1.00],[.730,.80],[.740,1.14],[.750,.90],[.760,.70],[.770,1.04],[.780,.84],[.790,1.16],[.800,.94],[.810,.74],[.820,1.08],[.830,.88],[.840,1.02],[.850,.80],[.860,1.12],[.870,.92],[.880,.76],[.890,1.00],[.900,.86],
[-.850,-.69],[-.842,-1.08],[-.834,-.80],[-.826,-.95],[-.818,-.57],[-.810,-.86],[-.802,-1.07],[-.794,-.69],[-.786,-.96],[-.778,-.72],[-.770,-.85],[-.762,-.57],[-.754,-.59],[-.746,-.99],[-.738,-.71],[-.730,-.85],[-.722,-.47],[-.714,-.76],[-.706,-.98],[-.698,-.60],
[-.690,-.86],[-.682,-.62],[-.674,-.75],[-.666,-.48],[-.658,-.50],[-.650,-.89],[-.642,-.61],[-.634,-.75],[-.626,-.38],[-.618,-.67],[-.610,-.88],[-.602,-.50],[-.594,-.76],[-.586,-.53],[-.578,-.66],[-.570,-.38],[-.562,-.40],[-.554,-.79],[-.546,-.52],[-.538,-.66],
[-.530,-.28],[-.522,-.57],[-.514,-.78],[-.506,-.41],[-.498,-.67],[-.490,-.43],[-.482,-.56],[-.474,-.28],[-.466,-.31],[-.458,-.70],[-.450,-.42],[-.442,-.56],[-.434,-.18],[-.426,-.48],[-.418,-.69],[-.410,-.31],[-.402,-.57],[-.394,-.33],[-.386,-.47],[-.378,-.19],
[-.370,-.21],[-.362,-.60],[-.354,-.32],[-.346,-.47],[-.338,-.09],[-.330,-.38],[-.322,-.59],[-.314,-.21],[-.306,-.48],[-.298,-.24],[-.290,-.37],[-.282,-.09],[-.274,-.11],[-.266,-.51],[-.258,-.23],[-.250,-.37],[-.242,.01],[-.234,-.28],[-.226,-.50],[-.218,-.12],
[-.210,-.38],[-.202,-.14],[-.194,-.27],[-.186,.00],[-.178,-.02],[-.170,-.41],[-.162,-.13],[-.154,-.27],[-.146,.10],[-.138,-.19],[-.130,-.40],[-.122,-.02],[-.114,-.28],[-.106,-.05],[-.098,-.18],[-.090,.10],[-.082,.08],[-.074,-.31],[-.066,-.04],[-.058,-.18],
[-.050,.20],[-.042,-.09],[-.034,-.30],[-.026,.07],[-.018,-.19],[-.010,.05],[-.002,-.08],[.006,.20],[.014,.17],[.022,-.22],[.030,.06],[.038,-.08],[.046,.30],[.054,.00],[.062,-.21],[.070,.17],[.078,-.09],[.086,.15],[.094,.01],[.102,.29],
[.110,.27],[.118,-.12],[.126,.16],[.134,.01],[.142,.39],[.150,.10],[.158,-.11],[.166,.27],[.174,.00],[.182,.24],[.190,.11],[.198,.39],[.206,.37],[.214,-.03],[.222,.25],[.230,.11],[.238,.49],[.246,.20],[.254,-.02],[.262,.36],
[.270,.10],[.278,.34],[.286,.21],[.294,.48],[.302,.46],[.310,.07],[.318,.35],[.326,.21],[.334,.58],[.342,.29],[.350,.08],[.358,.46],[.366,.20],[.374,.43],[.382,.30],[.390,.58],[.398,.56],[.406,.17],[.414,.44],[.422,.30],
[.430,.68],[.438,.39],[.446,.18],[.454,.55],[.462,.29],[.470,.53],[.478,.40],[.486,.68],[.494,.65],[.502,.26],[.510,.54],[.518,.40],[.526,.78],[.534,.48],[.542,.27],[.550,.65],[.558,.39],[.566,.63],[.574,.49],[.582,.77],
[.590,.75],[.598,.36],[.606,.64],[.614,.49],[.622,.87],[.630,.58],[.638,.37],[.646,.75],[.654,.48],[.662,.72],[.670,.59],[.678,.87],[.686,.85],[.694,.45],[.702,.73],[.710,.59],[.718,.97],[.726,.68],[.734,.46],[.742,.84],
[.750,.58],[.758,.82],[.766,.69],[.774,.96],[.782,.94],[.790,.55],[.798,.83],[.806,.69],[.814,1.06],[.822,.77],[.830,.56],[.838,.94],[.846,.68],[.854,.91],[.862,.78],[.870,1.06],[.878,1.04]
];
// titles and labels
const titles = ["Cell\u2212type 1", "Cell\u2212type 2", "Cell\u2212type 3"];
const xLabel = "Cell\u2212sorted Difference";
const yLabel = "Estimated difference";
// tick values and which ones carry a label
const xTicks = [[-0.4,-0.2,0,0.2,0.4],[-0.4,-0.2,0,0.2,0.4],[-1,-0.5,0,0.5,1]];
const xTickLabels = [[-0.4,-0.2,0,0.2,0.4],[-0.4,0,0.2,0.4],[-1,-0.5,0,0.5,1]];
const yTicks = [[-0.4,-0.2,0,0.2,0.4],[-0.4,-0.2,0,0.2,0.4],[-1.5,-1,-0.5,0,0.5,1,1.5]];
const yTickLabels = [[-0.4,0.2],[-0.4,0.2],[-1.5,0.5]];
// fitted line (intercept, slope) in red; identity line in green
const redFit = [[0.01,0.51],[-0.003,-0.365],[-0.01,1.025]];
const greenFit = [[0,1],[0,1],[0,1]];

// ---- layout (positions/sizes only) ----
const layout = [
  {left:0,   top:0,   width:590, height:392, ml:132.7, mr:31,   mt:89,  mb:164.3, xd:[-0.523,0.573], yd:[-0.443,0.432]},
  {left:590, top:0,   width:620, height:392, ml:167.7, mr:26.4, mt:89,  mb:164.3, xd:[-0.596,0.579], yd:[-0.484,0.533]},
  {left:0,   top:392, width:590, height:392, ml:132.7, mr:31,   mt:129, mb:124.3, xd:[-1.05,1.075],  yd:[-1.62,1.53]}
];
const data = [ct1, ct2, ct3];
const FONT = "'Liberation Sans', Arial, Helvetica, sans-serif";
const FS = 25.8;

const fmt = shown => d => shown.some(s => Math.abs(s - d) < 1e-9) ? d3.format(".1f")(d) : "";
const abline = ([a, b], [x0, x1]) => [{x: x0, y: a + b * x0}, {x: x1, y: a + b * x1}];

const wrap = document.getElementById("wrap");
layout.forEach((L, i) => {
  const chart = Plot.plot({
    width: L.width, height: L.height,
    marginLeft: L.ml, marginRight: L.mr, marginTop: L.mt, marginBottom: L.mb,
    style: {fontFamily: FONT, fontSize: FS + "px", background: "white", color: "black", overflow: "visible"},
    x: {domain: L.xd, label: null},
    y: {domain: L.yd, label: null},
    marks: [
      Plot.dot(data[i], {x: d => d[0], y: d => d[1], r: 5.6, stroke: "black", strokeWidth: 2.1, fill: "none"}),
      Plot.line(abline(redFit[i], L.xd), {x: "x", y: "y", stroke: "#ff0000", strokeWidth: 4.8, clip: true}),
      Plot.line(abline(greenFit[i], L.xd), {x: "x", y: "y", stroke: "#00ff00", strokeWidth: 1.8, clip: true}),
      Plot.frame({stroke: "black", strokeWidth: 2}),
      Plot.axisX({ticks: xTicks[i], tickSize: 16, tickPadding: 22.7, tickFormat: fmt(xTickLabels[i]), fontSize: FS, strokeWidth: 2, label: null}),
      Plot.axisY({ticks: yTicks[i], tickSize: 16, tickPadding: 20.5, tickRotate: -90, tickFormat: fmt(yTickLabels[i]), fontSize: FS, strokeWidth: 2, label: null}),
      Plot.text([titles[i]], {text: d => d, frameAnchor: "top", dy: -54, lineAnchor: "bottom", fontWeight: "bold", fontSize: 31}),
      Plot.text([xLabel], {text: d => d, frameAnchor: "bottom", dy: 122, lineAnchor: "bottom", fontSize: FS}),
      Plot.text([yLabel], {text: d => d, frameAnchor: "left", textAnchor: "middle", dx: -99.5, rotate: -90, lineAnchor: "bottom", fontSize: FS})
    ]
  });
  chart.classList.add("panel");
  chart.style.left = L.left + "px";
  chart.style.top = L.top + "px";
  wrap.appendChild(chart);
});
</script></body></html>
